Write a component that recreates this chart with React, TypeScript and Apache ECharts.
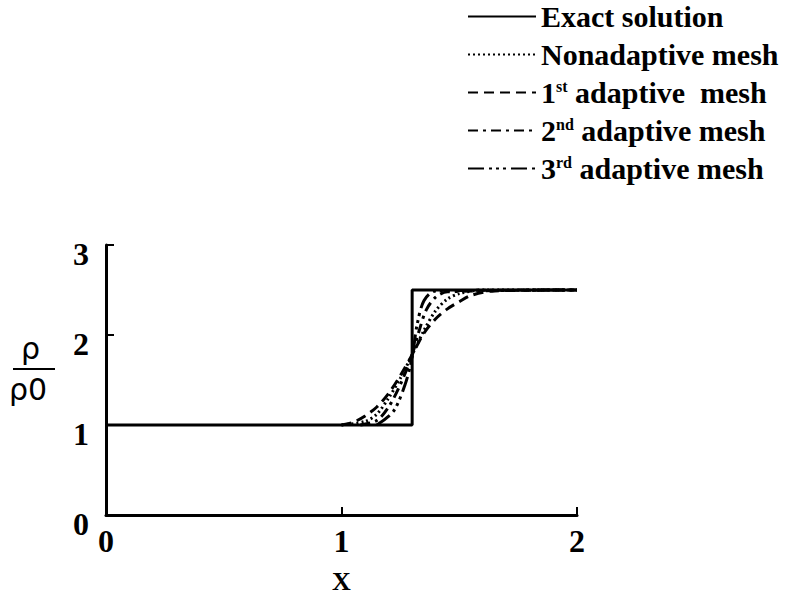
import React, { useEffect, useRef } from "react";
import * as echarts from "echarts";

const seriesNames = [
  "Exact solution",
  "Nonadaptive mesh",
  "1st adaptive  mesh",
  "2nd adaptive mesh",
  "3rd adaptive mesh",
];

const exactSolution: [number, number][] = [
  [0, 1], [1.3, 1], [1.3, 2.5], [2, 2.5],
];
const nonadaptive: [number, number][] = [
  [1.0, 1.0], [1.1, 1.04], [1.15, 1.12], [1.2, 1.3], [1.25, 1.52], [1.3, 1.78],
  [1.35, 2.05], [1.4, 2.27], [1.45, 2.4], [1.5, 2.46], [1.6, 2.5], [2.0, 2.5],
];
const adaptive1: [number, number][] = [
  [1.0, 1.0], [1.05, 1.03], [1.1, 1.1], [1.15, 1.2], [1.2, 1.35], [1.25, 1.55],
  [1.3, 1.78], [1.35, 2.02], [1.4, 2.18], [1.45, 2.29], [1.5, 2.37], [1.55, 2.44],
  [1.65, 2.49], [2.0, 2.5],
];
const adaptive2: [number, number][] = [
  [1.08, 1.0], [1.15, 1.05], [1.2, 1.2], [1.25, 1.45], [1.3, 1.78], [1.33, 2.05],
  [1.36, 2.28], [1.4, 2.42], [1.45, 2.48], [2.0, 2.5],
];
const adaptive3: [number, number][] = [
  [1.15, 1.0], [1.22, 1.15], [1.27, 1.45], [1.3, 1.75], [1.32, 2.1], [1.35, 2.38],
  [1.4, 2.49], [2.0, 2.5],
];

const xTicks = [0, 1, 2];
const yTicks = [0, 1, 2, 3];

const dashes: (string | number[])[] = [
  "solid",
  [2, 3],
  [10, 6],
  [10, 5, 3, 5],
  [16, 5, 3, 4, 3, 4, 3, 5],
];
const dataSets = [exactSolution, nonadaptive, adaptive1, adaptive2, adaptive3];

const FONT = "Liberation Serif";

export default function App() {
  const ref = useRef<HTMLDivElement>(null);
  useEffect(() => {
    document.body.style.margin = "0";
    if (!ref.current) return;
    const chart = echarts.init(ref.current, null, { renderer: "svg" });
    chart.setOption({
      animation: false,
      backgroundColor: "#ffffff",
      grid: { left: 106, right: 210, top: 245, bottom: 88, containLabel: false },
      legend: {
        orient: "vertical",
        left: 462,
        top: -4,
        itemWidth: 68,
        itemHeight: 14,
        itemGap: 7,
        selectedMode: false,
        itemStyle: { opacity: 0 },
        data: seriesNames,
        textStyle: {
          fontFamily: FONT,
          fontWeight: "bold",
          fontSize: 30,
          color: "#000",
          lineHeight: 31,
          rich: {
            sup: { fontFamily: FONT, fontWeight: "bold", fontSize: 16, color: "#000", padding: [0, 0, 12, 0] },
            t: { fontFamily: FONT, fontWeight: "bold", fontSize: 30, color: "#000" },
          },
        },
        formatter: (name: string) => {
          const m = name.match(/^(\d)(st|nd|rd)(.*)$/);
          if (m) return `{t|${m[1]}}{sup|${m[2]}}{t|${m[3]}}`;
          return name;
        },
      },
      xAxis: {
        type: "value",
        min: 0,
        max: 2,
        interval: 1,
        name: "X",
        nameLocation: "middle",
        nameGap: 53,
        nameTextStyle: { fontFamily: FONT, fontWeight: "bold", fontSize: 26, color: "#000" },
        splitLine: { show: false },
        axisLine: { show: true, lineStyle: { color: "#000", width: 3 } },
        axisTick: { show: true, inside: true, length: 8, lineStyle: { color: "#000", width: 2 } },
        axisLabel: {
          fontFamily: FONT,
          fontWeight: "bold",
          fontSize: 32,
          color: "#000",
          margin: 10,
          formatter: (v: number) => (xTicks.includes(v) ? String(v) : ""),
        },
      },
      yAxis: {
        type: "value",
        min: 0,
        max: 3,
        interval: 1,
        splitLine: { show: false },
        axisLine: { show: true, lineStyle: { color: "#000", width: 3 } },
        axisTick: { show: true, inside: true, length: 8, lineStyle: { color: "#000", width: 2 } },
        axisLabel: {
          fontFamily: FONT,
          fontWeight: "bold",
          fontSize: 32,
          color: "#000",
          margin: 17,
          verticalAlign: "top",
          lineHeight: 18,
          formatter: (v: number) => (yTicks.includes(v) ? String(v) : ""),
        },
      },
      graphic: [
        {
          type: "text",
          left: 21,
          top: 333,
          style: { text: "ρ", fontFamily: "DejaVu Sans", fontSize: 30, fill: "#000" },
        },
        {
          type: "line",
          shape: { x1: 13, y1: 369, x2: 55, y2: 369 },
          style: { stroke: "#000", lineWidth: 2 },
        },
        {
          type: "text",
          left: 9,
          top: 374,
          style: { text: "ρ0", fontFamily: "DejaVu Sans", fontSize: 30, fill: "#000" },
        },
      ],
      series: seriesNames.map((name, i) => ({
        name,
        type: "line",
        data: dataSets[i],
        symbol: "none",
        smooth: i === 0 ? false : 0.3,
        lineStyle: { color: "#000", width: 3, type: dashes[i] },
        itemStyle: { color: "#000" },
        z: i === 0 ? 3 : 2,
      })),
    });
    return () => chart.dispose();
  }, []);
  return <div ref={ref} style={{ width: 787, height: 603 }} />;
}
